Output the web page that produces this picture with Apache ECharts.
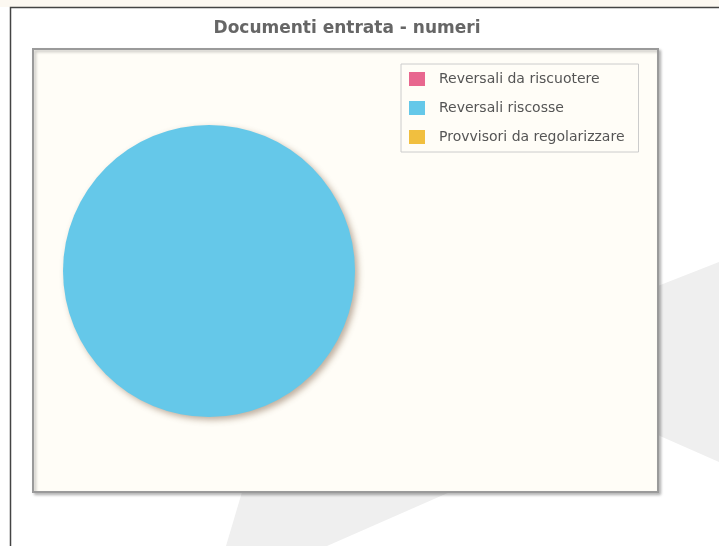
<!DOCTYPE html>
<html>
<head>
<meta charset="utf-8">
<script src="https://cdn.jsdelivr.net/npm/echarts@6/dist/echarts.min.js"></script>
<style>
html,body{margin:0;padding:0;background:#ffffff;}
#chart{width:719px;height:546px;}
</style>
</head>
<body>
<div id="chart"></div>
<script>
var chartTitle = 'Documenti entrata - numeri';
var categories = ['Reversali da riscuotere', 'Reversali riscosse', 'Provvisori da regolarizzare'];
var values = [0, 1, 0];
var colors = ['#e8678f', '#65c8e9', '#f1bf3f'];

var pieData = categories.map(function (c, i) {
  return { name: c, value: values[i], itemStyle: { color: colors[i] } };
});

var chart = echarts.init(document.getElementById('chart'), null, { renderer: 'canvas' });
chart.setOption({
  backgroundColor: '#ffffff',
  animation: false,
  graphic: [
    { type: 'rect', z: -20, shape: { x: 0, y: 0, width: 719, height: 7 }, style: { fill: '#fcf8f1' } },
    { type: 'polygon', z: -15, shape: { points: [[497, 349], [719, 262], [719, 462], [660, 436]] }, style: { fill: '#efefef' } },
    { type: 'polygon', z: -15, shape: { points: [[242, 492], [450, 492], [327, 546], [226, 546]] }, style: { fill: '#efefef' } },
    { type: 'polyline', z: -10, shape: { points: [[10.5, 546], [10.5, 7.5], [719, 7.5]] }, style: { stroke: '#444444', lineWidth: 1.5, fill: null } },
    { type: 'rect', z: -5, shape: { x: 33, y: 49, width: 625, height: 443 },
      style: { fill: '#fffdf7', stroke: '#9a9a9a', lineWidth: 2, shadowColor: 'rgba(0,0,0,0.25)', shadowBlur: 3, shadowOffsetX: 2, shadowOffsetY: 2 } },
    { type: 'text', z: 5, x: 347, y: 29,
      style: { text: chartTitle, fill: '#666666', font: 'bold 17px "DejaVu Sans"', textAlign: 'center', textVerticalAlign: 'middle' } }
  ],
  legend: {
    orient: 'vertical',
    left: 401,
    top: 64,
    padding: [8, 14, 8, 8],
    borderColor: '#cccccc',
    borderWidth: 1,
    backgroundColor: 'transparent',
    itemWidth: 16,
    itemHeight: 14,
    itemGap: 15,
    icon: 'rect',
    selectedMode: false,
    data: categories,
    textStyle: { fontFamily: 'DejaVu Sans', fontSize: 14, color: '#555555', padding: [0, 0, 0, 9] }
  },
  series: [{
    type: 'pie',
    center: [209, 271],
    radius: 146,
    silent: true,
    label: { show: false },
    labelLine: { show: false },
    itemStyle: {
      borderWidth: 0,
      shadowColor: 'rgba(110,80,50,0.45)',
      shadowBlur: 6,
      shadowOffsetX: 3,
      shadowOffsetY: 3
    },
    data: pieData
  }]
});
</script>
</body>
</html>
